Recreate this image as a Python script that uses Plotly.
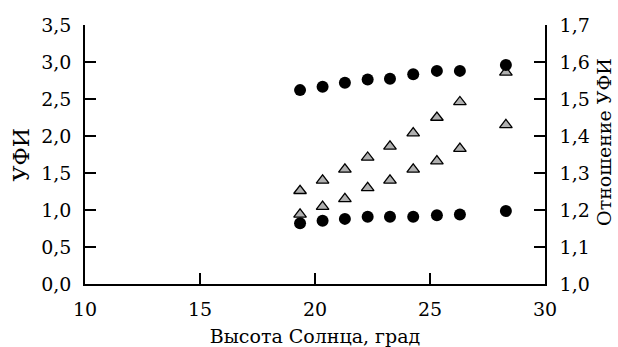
import plotly.graph_objects as go

x = [19.35, 20.33, 21.3, 22.29, 23.26, 24.27, 25.3, 26.3, 28.3]
ratio_upper = [1.524, 1.533, 1.544, 1.553, 1.555, 1.567, 1.576, 1.576, 1.592]
ufi_tri_upper = [1.26, 1.40, 1.55, 1.71, 1.86, 2.04, 2.25, 2.46, 2.86]
ufi_tri_lower = [0.94, 1.045, 1.15, 1.30, 1.40, 1.55, 1.66, 1.83, 2.15]
ufi_circ_lower = [0.82, 0.855, 0.88, 0.91, 0.91, 0.91, 0.93, 0.94, 0.985]

xticks = [10, 15, 20, 25, 30]
yticks_left = [0.0, 0.5, 1.0, 1.5, 2.0, 2.5, 3.0, 3.5]
yticks_right = [1.0, 1.1, 1.2, 1.3, 1.4, 1.5, 1.6, 1.7]

def fmt(v, d):
    return f"{v:.{d}f}".replace(".", ",")

FONT = "DejaVu Serif"
TS = 19
circ = dict(symbol="circle", size=12, color="black", line=dict(width=0))
tri = dict(symbol="triangle-up", size=11, color="#b0b0b0", line=dict(width=1.3, color="black"))

fig = go.Figure()
fig.add_trace(go.Scatter(x=x, y=ufi_tri_upper, mode="markers", marker=tri, showlegend=False))
fig.add_trace(go.Scatter(x=x, y=ufi_tri_lower, mode="markers", marker=tri, showlegend=False))
fig.add_trace(go.Scatter(x=x, y=ufi_circ_lower, mode="markers", marker=circ, showlegend=False))
fig.add_trace(go.Scatter(x=x, y=ratio_upper, mode="markers", marker=circ, yaxis="y2", showlegend=False))

axis_common = dict(showgrid=False, zeroline=False, showline=True, linecolor="black", linewidth=1.5,
                   ticks="inside", ticklen=11, tickwidth=1.5, tickcolor="black", automargin=False,
                   tickfont=dict(family=FONT, size=TS, color="black"))

fig.update_layout(
    width=618, height=347,
    margin=dict(l=85, r=73, t=25, b=63),
    paper_bgcolor="white", plot_bgcolor="white",
    font=dict(family=FONT, size=TS, color="black"),
    xaxis=dict(range=[10, 30], tickvals=xticks, ticktext=[str(t) for t in xticks],
               ticklabelstandoff=7,
               title=dict(text="Высота Солнца, град", font=dict(family=FONT, size=TS, color="black"), standoff=12),
               **axis_common),
    yaxis=dict(range=[0, 3.5], tickvals=yticks_left, ticktext=[fmt(t, 1) for t in yticks_left],
               ticklabelstandoff=8, **axis_common),
    yaxis2=dict(range=[1.0, 1.7], overlaying="y", side="right",
                tickvals=yticks_right, ticktext=[fmt(t, 1) for t in yticks_right],
                ticklabelstandoff=9, **axis_common),
    annotations=[
        dict(text="УФИ", xref="paper", yref="paper", x=-0.137, y=0.5, textangle=-90,
             showarrow=False, xanchor="center", yanchor="middle",
             font=dict(family=FONT, size=22, color="black")),
        dict(text="Отношение УФИ", xref="paper", yref="paper", x=1.128, y=0.548, textangle=-90,
             showarrow=False, xanchor="center", yanchor="middle", borderpad=0,
             font=dict(family=FONT, size=19, color="black")),
    ],
)

fig.write_html("out.html", config={"displayModeBar": False},
               post_script="document.body.style.margin='0';")
